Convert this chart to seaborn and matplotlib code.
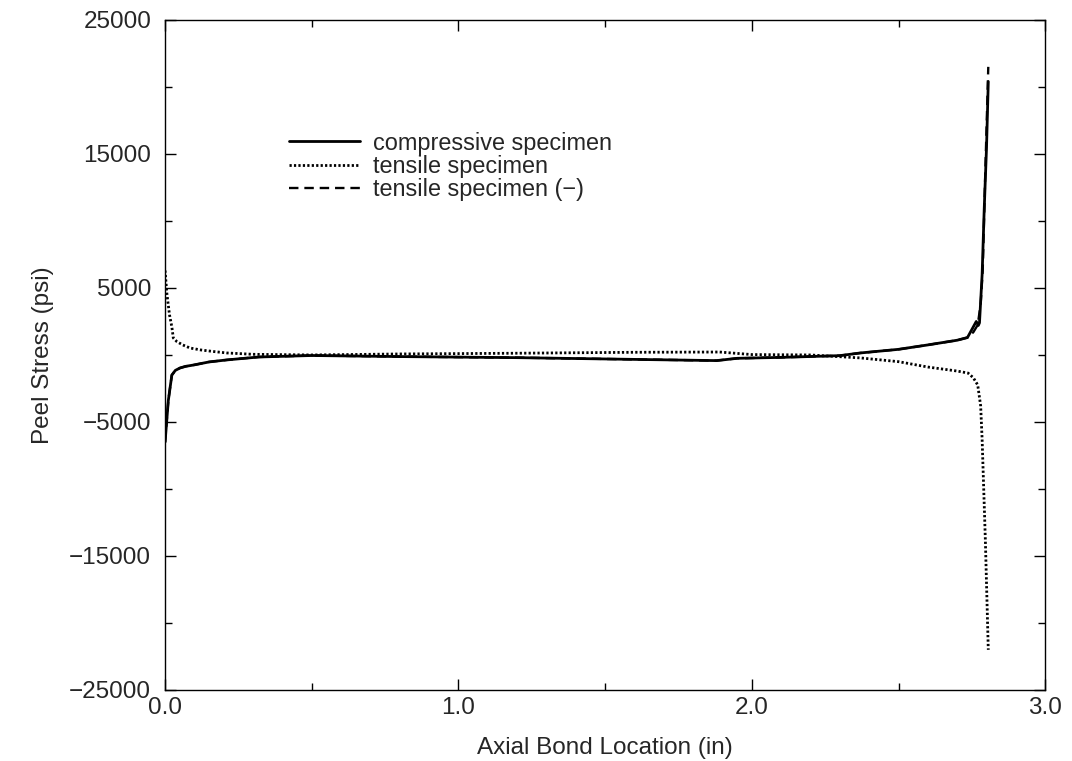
import matplotlib
matplotlib.use("Agg")
import matplotlib.pyplot as plt
import seaborn as sns
import pandas as pd

# compressive specimen (solid)
comp_x = [0.0, 0.011, 0.023, 0.035, 0.051, 0.07, 0.097, 0.15, 0.21, 0.32, 0.5, 0.8,
          1.2, 1.6, 1.88, 1.95, 2.1, 2.3, 2.37, 2.5, 2.6, 2.7, 2.735, 2.75, 2.765,
          2.772, 2.776, 2.785, 2.792, 2.80, 2.806]
comp_y = [-6500, -3400, -1500, -1150, -970, -850, -750, -520, -370, -150, -40, -120,
          -200, -330, -420, -250, -180, -50, 150, 420, 750, 1100, 1300, 1900, 2500,
          2200, 2400, 6000, 10800, 15500, 20400]

# tensile specimen (dotted)
tens_x = [0.0, 0.006, 0.015, 0.023, 0.028, 0.04, 0.06, 0.085, 0.12, 0.16, 0.21, 0.3,
          0.5, 0.8, 1.2, 1.6, 1.89, 2.0, 2.2, 2.37, 2.5, 2.6, 2.7, 2.737, 2.755, 2.77,
          2.78, 2.785, 2.796, 2.806]
tens_y = [6300, 4600, 3000, 2100, 1270, 1000, 750, 520, 380, 270, 150, 50,
          0, 75, 130, 200, 220, 30, 0, -220, -500, -900, -1200, -1350, -1700, -2240,
          -3800, -6300, -13800, -22000]

# tensile specimen (-) (dashed), mostly hidden under the solid curve
neg_x = [0.0, 0.011, 0.023, 0.035, 0.051, 0.07, 0.097, 0.15, 0.21, 0.32, 0.5, 0.8,
         1.2, 1.6, 1.88, 1.95, 2.1, 2.3, 2.37, 2.5, 2.6, 2.7, 2.735, 2.755, 2.77,
         2.78, 2.787, 2.796, 2.806]
neg_y = [-6500, -3400, -1500, -1150, -970, -850, -750, -520, -370, -150, -40, -120,
         -200, -330, -420, -250, -180, -50, 150, 420, 750, 1100, 1300, 1700, 2240,
         3800, 6300, 13800, 21500]

labels = ["compressive specimen", "tensile specimen", "tensile specimen (\u2212)"]

x_major = [0.0, 1.0, 2.0, 3.0]
x_minor = [0.5, 1.5, 2.5]
y_major = [-25000, -15000, -5000, 5000, 15000, 25000]
y_minor = [-20000, -10000, 0, 10000, 20000]

sns.set_style("ticks")
plt.rcParams["font.family"] = ["Liberation Sans", "DejaVu Sans"]

fig = plt.figure(figsize=(10.72, 7.61), dpi=100)
ax = fig.add_axes([0.154, 0.0933, 0.821, 0.8805])

df_neg = pd.DataFrame({"x": neg_x, "y": neg_y})
df_tens = pd.DataFrame({"x": tens_x, "y": tens_y})
df_comp = pd.DataFrame({"x": comp_x, "y": comp_y})

sns.lineplot(data=df_neg, x="x", y="y", ax=ax, sort=False, estimator=None,
             color="black", lw=1.7, linestyle=(0, (4, 2.5)), label=labels[2], zorder=2)
sns.lineplot(data=df_tens, x="x", y="y", ax=ax, sort=False, estimator=None,
             color="black", lw=2.0, linestyle=(0, (0.8, 0.8)), label=labels[1], zorder=3)
sns.lineplot(data=df_comp, x="x", y="y", ax=ax, sort=False, estimator=None,
             color="black", lw=2.0, label=labels[0], zorder=4)

ax.set_xlim(0, 3)
ax.set_ylim(-25000, 25000)
ax.set_xticks(x_major)
ax.set_xticklabels([f"{v:.1f}" for v in x_major])
ax.set_xticks(x_minor, minor=True)
ax.set_yticks(y_major)
ax.set_yticklabels([f"{v:d}".replace("-", "\u2212") for v in y_major])
ax.set_yticks(y_minor, minor=True)
ax.tick_params(which="both", direction="in", width=1, top=True, right=True,
               labelsize=17.5, color="black")
ax.tick_params(axis="x", pad=5)
ax.tick_params(axis="y", pad=10)
ax.tick_params(which="major", length=8)
ax.tick_params(which="minor", length=5)
for s in ax.spines.values():
    s.set_linewidth(1.0)
    s.set_color("black")

ax.set_xlabel("Axial Bond Location (in)", fontsize=17.5, labelpad=13)
ax.set_ylabel("Peel Stress (psi)", fontsize=17.5, labelpad=11)

handles, lbls = ax.get_legend_handles_labels()
order = [lbls.index(l) for l in labels]
ax.legend([handles[i] for i in order], [lbls[i] for i in order], loc="upper left",
          bbox_to_anchor=(0.117, 0.865), frameon=False, fontsize=16.9, handlelength=3.0,
          handletextpad=0.58, labelspacing=0.02)

fig.savefig("out.png", dpi=100)
